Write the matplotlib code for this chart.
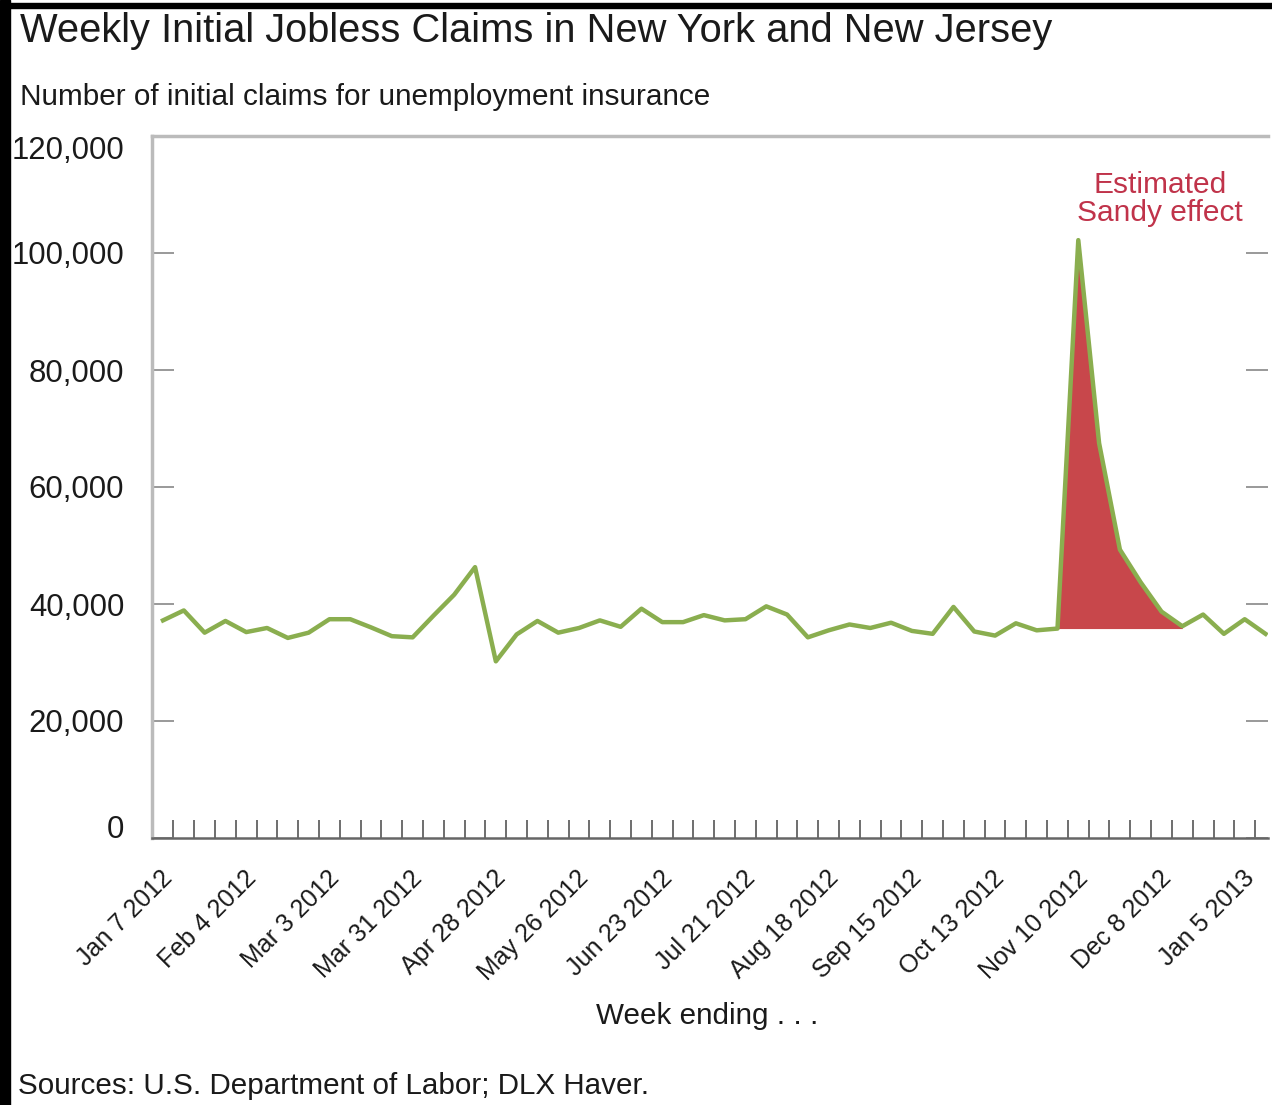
import numpy as np
import matplotlib.pyplot as plt
import matplotlib.transforms as mtransforms
from matplotlib.patches import Rectangle

plt.rcParams['font.family'] = ['Liberation Sans', 'DejaVu Sans']

# weekly initial claims, thousands
claims = [37.2, 38.9, 35.1, 37.1, 35.2, 35.9, 34.2, 35.1, 37.4, 37.4,
          36.0, 34.5, 34.3, 38.0, 41.6, 46.3, 30.2, 34.8, 37.1, 35.1,
          35.9, 37.2, 36.1, 39.2, 36.9, 36.9, 38.1, 37.2, 37.4, 39.6,
          38.2, 34.3, 35.5, 36.5, 35.9, 36.8, 35.4, 34.9, 39.5, 35.3,
          34.6, 36.7, 35.5, 35.8, 102.2, 67.5, 49.3, 43.7, 38.7, 36.2,
          38.2, 34.9, 37.4, 34.9]
claims = np.array(claims) * 1000

tick_labels = ["Jan 7 2012", "Feb 4 2012", "Mar 3 2012", "Mar 31 2012",
               "Apr 28 2012", "May 26 2012", "Jun 23 2012", "Jul 21 2012",
               "Aug 18 2012", "Sep 15 2012", "Oct 13 2012", "Nov 10 2012",
               "Dec 8 2012", "Jan 5 2013"]
n_ticks = 53

sandy_start = 43
sandy_end = 49

y_ticks = [0, 20000, 40000, 60000, 80000, 100000, 120000]

W, H = 1272, 1105
fig = plt.figure(figsize=(W / 100, H / 100), dpi=100)
ax = fig.add_axes([152 / W, 1 - 838 / H, (1268 - 152) / W, (838 - 136) / H])

x = np.arange(len(claims))
base = claims[sandy_start]
ax.fill_between(x[sandy_start:sandy_end + 1], claims[sandy_start:sandy_end + 1], base,
                color='#c8474b', lw=0, zorder=2)
ax.plot(x, claims, color='#8aae4f', lw=3.2, zorder=3)

ax.set_xlim(-0.53, 53.12)
ax.set_ylim(0, 120000)

ax.set_yticks(y_ticks)
ax.set_yticklabels([f"{v:,}" for v in y_ticks])
ax.tick_params(axis='y', direction='in', length=16, width=1.2, color='#888888',
               labelsize=22.4, pad=20, right=True, labelcolor='#1a1a1a')
ylabs = ax.get_yticklabels()
ylabs[0].set_va('baseline')
ylabs[-1].set_va('top')

tick_pos = np.arange(n_ticks) + 0.5
ax.set_xticks(tick_pos, minor=True)
ax.set_xticks(tick_pos[::4])
ax.set_xticklabels(tick_labels, rotation=45, ha='right', va='top',
                   rotation_mode='anchor')
ax.tick_params(axis='x', which='both', direction='in', length=13, width=1.2,
               color='#555555')
ax.tick_params(axis='x', which='major', labelsize=18, pad=20, labelcolor='#1a1a1a')
shift = mtransforms.ScaledTranslation(-13 / 100, 0, fig.dpi_scale_trans)
for lab in ax.get_xticklabels():
    lab.set_transform(lab.get_transform() + shift)

for s in ['top', 'left']:
    ax.spines[s].set_color('#bbbbbb')
    ax.spines[s].set_linewidth(2.5)
ax.spines['bottom'].set_color('#666666')
ax.spines['bottom'].set_linewidth(1.8)
ax.spines['right'].set_visible(False)

ax.text(1160 / W, 1 - 199 / H, "Estimated\nSandy effect", transform=fig.transFigure,
        ha='center', va='center', color='#c0334a', fontsize=21.5, linespacing=1.0)

fig.text(20 / W, 1 - 31 / H, "Weekly Initial Jobless Claims in New York and New Jersey",
         fontsize=28.7, va='center', color='#1a1a1a')
fig.text(20 / W, 1 - 97 / H, "Number of initial claims for unemployment insurance",
         fontsize=21.4, va='center', color='#1a1a1a')
fig.text(707 / W, 1 - 1016 / H, "Week ending . . .", fontsize=21.3, ha='center',
         va='center', color='#1a1a1a')
fig.text(18 / W, 1 - 1086 / H, "Sources: U.S. Department of Labor; DLX Haver.",
         fontsize=21.3, va='center', color='#1a1a1a')

# black frame on top and left edges
fig.patches.append(Rectangle((0, 0), 10 / W, 1, transform=fig.transFigure,
                             color='black', zorder=10))
fig.patches.append(Rectangle((0, 1 - 8 / H), 1, 5 / H, transform=fig.transFigure,
                             color='black', zorder=10))

plt.savefig('out.png', dpi=100)
